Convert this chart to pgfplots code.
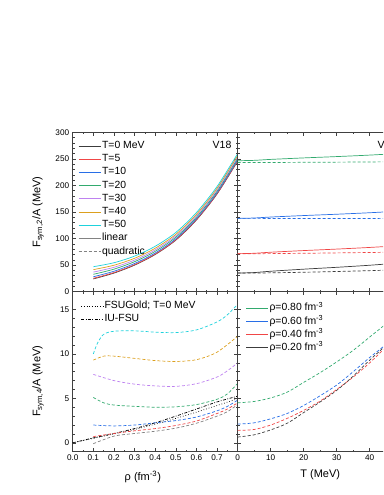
\documentclass[border=0pt]{standalone}
\usepackage{pgfplots}
\pgfplotsset{compat=1.18}
\usepackage{fontspec}
\setmainfont{Liberation Sans}

\definecolor{cT0}{RGB}{60,60,60}
\definecolor{cT5}{RGB}{240,70,70}
\definecolor{cT10}{RGB}{40,110,230}
\definecolor{cT20}{RGB}{50,170,110}
\definecolor{cT30}{RGB}{190,130,240}
\definecolor{cT40}{RGB}{220,160,30}
\definecolor{cT50}{RGB}{30,210,220}
\definecolor{cgray}{RGB}{130,130,130}

\pgfplotsset{
  panel/.style={
    scale only axis, width=165pt, anchor=south west,
    axis line style={line width=0.8pt, black!75},
    tick style={black!75, line width=0.6pt},
    tick align=inside, major tick length=3.5pt, minor tick length=2pt,
    ticklabel style={font=\fontsize{8.2}{9}\selectfont},
    /pgf/number format/assume math mode=true,
    every axis plot/.append style={line width=0.7pt},
    legend cell align=left,
    legend style={draw=none, fill=none, anchor=north west,
      font=\fontsize{10.4}{11}\selectfont, row sep=1.5pt,
      nodes={inner sep=1pt, text height=7.5pt, text depth=2.2pt}},
    legend image code/.code={\draw[##1] (0pt,0pt) -- (22pt,0pt);},
    label style={font=\fontsize{11}{12}\selectfont},
  },
  dsh/.style={dash pattern=on 3pt off 2pt},
}

\begin{document}
\begin{tikzpicture}
\useasboundingbox (0pt,0pt) rectangle (383pt,495pt);
\clip (0pt,0pt) rectangle (383pt,495pt);

% top left: F_sym,2 vs rho
\begin{axis}[panel, at={(72.7pt,203.3pt)}, height=159.4pt,
  xmin=0, xmax=0.8, ymin=0, ymax=300,
  xtick={0,0.1,0.2,0.3,0.4,0.5,0.6,0.7,0.8}, xticklabels={},
  minor x tick num=1,
  ytick={0,50,100,150,200,250,300}, minor y tick num=4,
  ylabel={F\textsubscript{sym,2}/A (MeV)},
  ylabel style={at={(axis description cs:-0.21,0.5)}, anchor=center},
  legend style={at={(axis description cs:0.015,0.965)}},
]
\addplot[cT0, smooth] coordinates {(0.1,24) (0.2,35) (0.3,50) (0.4,70) (0.5,97) (0.6,135) (0.7,184) (0.8,246)};
\addlegendentry{T=0 MeV}
\addplot[cT5, smooth] coordinates {(0.1,25.2) (0.2,36.0) (0.3,50.9) (0.4,70.8) (0.5,97.7) (0.6,135.7) (0.7,184.7) (0.8,246.7)};
\addlegendentry{T=5}
\addplot[cT10, smooth] coordinates {(0.1,28.1) (0.2,38.5) (0.3,53.1) (0.4,72.8) (0.5,99.6) (0.6,137.5) (0.7,186.5) (0.8,248.5)};
\addlegendentry{T=10}
\addplot[cT20, smooth] coordinates {(0.1,32.7) (0.2,42.4) (0.3,56.5) (0.4,75.9) (0.5,102.5) (0.6,140.3) (0.7,189.3) (0.8,251.3)};
\addlegendentry{T=20}
\addplot[cT30, smooth] coordinates {(0.1,36.9) (0.2,45.9) (0.3,59.5) (0.4,78.7) (0.5,105.1) (0.6,142.8) (0.7,191.8) (0.8,253.8)};
\addlegendentry{T=30}
\addplot[cT40, smooth] coordinates {(0.1,41.5) (0.2,49.8) (0.3,62.9) (0.4,81.8) (0.5,108.0) (0.6,145.6) (0.7,194.6) (0.8,256.6)};
\addlegendentry{T=40}
\addplot[cT50, smooth] coordinates {(0.1,47) (0.2,54.5) (0.3,67) (0.4,85.5) (0.5,111.5) (0.6,149) (0.7,198) (0.8,260)};
\addlegendentry{T=50}
\addlegendimage{cgray, solid, line width=0.7pt}
\addlegendentry{linear}
\addlegendimage{cgray, dsh, line width=0.7pt}
\addlegendentry{quadratic}
\node[anchor=east, font=\fontsize{10.5}{11}\selectfont] at (axis description cs:0.983,0.92) {V18};
\end{axis}

% top right: F_sym,2 vs T
\begin{axis}[panel, at={(237.7pt,203.3pt)}, height=159.4pt,
  xmin=0, xmax=50, ymin=0, ymax=300,
  xtick={0,10,20,30,40,50}, xticklabels={}, minor x tick num=1,
  ytick={0,50,100,150,200,250,300}, yticklabels={}, minor y tick num=4,
]
\addplot[cT20, smooth] coordinates {(0,246.5) (5,247.2) (10,249) (20,251.8) (30,254.3) (40,257.1) (50,260.5)};
\addplot[cT20, dsh, smooth] coordinates {(0,243) (5,243) (10,243.2) (20,243.5) (30,243.8) (40,244.2) (50,244.6)};
\addplot[cT10, smooth] coordinates {(0,138) (5,138.7) (10,140.5) (20,143.3) (30,145.8) (40,148.6) (50,152)};
\addplot[cT10, dsh, smooth] coordinates {(0,138) (5,138) (10,137.9) (20,137.8) (30,137.7) (40,137.6) (50,137.5)};
\addplot[cT5, smooth] coordinates {(0,71.5) (5,72.3) (10,74.3) (20,77.4) (30,80.2) (40,83.3) (50,87)};
\addplot[cT5, dsh, smooth] coordinates {(0,71.5) (5,71.5) (10,71.7) (20,72.3) (30,73) (40,73.8) (50,74.6)};
\addplot[cT0, smooth] coordinates {(0,35) (5,36.0) (10,38.5) (20,42.4) (30,45.9) (40,49.8) (50,54.5)};
\addplot[cT0, dsh, smooth] coordinates {(0,35) (5,35.1) (10,35.5) (20,36.6) (30,38) (40,39.6) (50,41.5)};
\node[anchor=east, font=\fontsize{10.5}{11}\selectfont] at (axis description cs:0.983,0.92) {V18};
\end{axis}

% bottom left: F_sym,4 vs rho
\begin{axis}[panel, at={(72.7pt,43.3pt)}, height=160pt,
  xmin=0, xmax=0.8, ymin=-1, ymax=17,
  xtick={0,0.1,0.2,0.3,0.4,0.5,0.6,0.7,0.8},
  xticklabels={0.0,0.1,0.2,0.3,0.4,0.5,0.6,0.7,{}},
  minor x tick num=1,
  ytick={0,5,10,15}, minor y tick num=4,
  ylabel={F\textsubscript{sym,4}/A (MeV)},
  ylabel style={at={(axis description cs:-0.21,0.44)}, anchor=center},
  xlabel={ρ (fm\textsuperscript{-3})},
  xlabel style={at={(axis description cs:0.425,-0.156)}, anchor=center},
  legend style={at={(axis description cs:0.03,0.96)}},
]
\addplot[black, dotted, smooth] coordinates {(0,0) (0.1,0.5) (0.2,1.0) (0.3,1.5) (0.4,2.1) (0.5,2.75) (0.6,3.45) (0.7,4.2) (0.8,4.95)};
\addlegendentry{FSUGold; T=0 MeV}
\addplot[black, dash pattern=on 3pt off 1.5pt on 0.8pt off 1.5pt, smooth] coordinates {(0,0) (0.1,0.55) (0.2,1.05) (0.3,1.6) (0.4,2.25) (0.5,3.0) (0.6,3.8) (0.7,4.6) (0.8,5.25)};
\addlegendentry{IU-FSU}
\addplot[cT50, dsh, smooth, forget plot] coordinates {(0.1,10.0) (0.12,11.2) (0.15,12.2) (0.2,12.55) (0.3,12.6) (0.4,12.45) (0.5,12.4) (0.6,12.7) (0.7,13.6) (0.75,14.4) (0.8,15.6)};
\addplot[cT40, dsh, smooth, forget plot] coordinates {(0.1,9.3) (0.15,9.75) (0.2,9.75) (0.3,9.5) (0.4,9.25) (0.5,9.15) (0.6,9.35) (0.7,10.2) (0.8,12.0)};
\addplot[cT30, dsh, smooth, forget plot] coordinates {(0.1,7.7) (0.2,7.0) (0.3,6.6) (0.4,6.4) (0.5,6.35) (0.6,6.65) (0.7,7.4) (0.75,8.1) (0.8,9.0)};
\addplot[cT20, dsh, smooth, forget plot] coordinates {(0.1,5.1) (0.15,4.5) (0.2,4.25) (0.3,4.1) (0.4,4.0) (0.5,4.05) (0.6,4.3) (0.7,4.9) (0.75,5.5) (0.8,6.7)};
\addplot[cT10, dsh, smooth, forget plot] coordinates {(0.1,2.0) (0.2,1.9) (0.3,2.0) (0.4,2.25) (0.5,2.5) (0.6,2.9) (0.7,3.6) (0.75,4.1) (0.8,4.8)};
\addplot[cT5, dsh, smooth, forget plot] coordinates {(0.1,0.7) (0.2,1.05) (0.3,1.35) (0.4,1.6) (0.5,1.95) (0.6,2.45) (0.7,3.3) (0.75,3.8) (0.8,4.5)};
\addplot[cgray, dsh, smooth, forget plot] coordinates {(0.1,-0.1) (0.2,0.75) (0.3,1.05) (0.4,1.3) (0.5,1.65) (0.6,2.2) (0.7,3.0) (0.75,3.5) (0.8,4.3)};
\end{axis}

% bottom right: F_sym,4 vs T
\begin{axis}[panel, at={(237.7pt,43.3pt)}, height=160pt,
  xmin=0, xmax=50, ymin=-1, ymax=17,
  xtick={0,10,20,30,40,50}, minor x tick num=1,
  ytick={0,5,10,15}, yticklabels={}, minor y tick num=4,
  xlabel={T (MeV)},
  xlabel style={at={(axis description cs:0.5,-0.145)}, anchor=center},
  legend style={at={(axis description cs:0.03,0.947)}},
]
\addlegendimage{cT20, solid}
\addlegendentry{ρ=0.80 fm\textsuperscript{-3}}
\addlegendimage{cT10, solid}
\addlegendentry{ρ=0.60 fm\textsuperscript{-3}}
\addlegendimage{cT5, solid}
\addlegendentry{ρ=0.40 fm\textsuperscript{-3}}
\addlegendimage{cT0, solid}
\addlegendentry{ρ=0.20 fm\textsuperscript{-3}}
\addplot[cT20, dsh, smooth, forget plot] coordinates {(0,4.5) (5,4.65) (10,5.05) (15,5.7) (20,6.8) (25,7.9) (30,9.1) (35,10.4) (40,11.9) (45,13.4) (50,15.0)};
\addplot[cT10, dsh, smooth, forget plot] coordinates {(0,2.1) (5,2.25) (10,2.7) (15,3.3) (20,4.2) (25,5.3) (30,6.5) (35,8.0) (40,9.6) (45,11.1) (50,12.9)};
\addplot[cT5, dsh, smooth, forget plot] coordinates {(0,1.4) (5,1.5) (10,2.0) (15,2.75) (20,3.65) (25,4.7) (30,6.0) (35,7.4) (40,9.0) (45,10.8) (50,12.7)};
\addplot[cT0, dsh, smooth, forget plot] coordinates {(0,0.65) (5,0.9) (10,1.45) (15,2.2) (20,3.4) (25,4.6) (30,5.9) (35,7.5) (40,9.3) (45,11.0) (50,12.9)};
\end{axis}
\end{tikzpicture}
\end{document}
